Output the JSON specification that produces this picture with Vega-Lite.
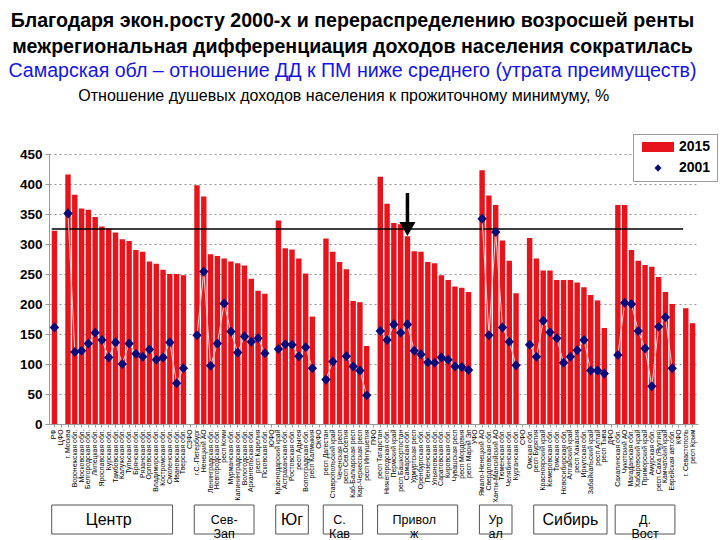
{
  "$schema": "https://vega.github.io/schema/vega-lite/v6.json",
  "padding": {"left": 8, "right": 0, "top": 10, "bottom": 0},
  "background": "white",
  "spacing": 1,
  "config": {
    "font": "Liberation Sans",
    "view": {"stroke": null},
    "axisY": {"labelFontSize": 13.5, "labelFontWeight": "bold", "labelColor": "black", "grid": true, "gridDash": [2, 3], "gridColor": "#777777", "gridWidth": 0.8, "domainColor": "#999999", "tickColor": "#999999", "tickSize": 4, "labelPadding": 3, "title": null},
    "legend": {"labelFontSize": 14, "labelFontWeight": "bold", "labelColor": "black", "strokeColor": "#999999", "fillColor": "white", "padding": 6, "rowPadding": 7, "symbolSize": 100, "symbolStrokeWidth": 0, "labelOffset": 14, "symbolOffset": 12}
  },
  "title": {
    "text": ["Благодаря экон.росту 2000-х и перераспределению возросшей ренты", "межрегиональная дифференциация доходов населения сократилась"],
    "subtitle": "Самарская обл – отношение ДД к ПМ ниже среднего (утрата преимуществ)",
    "anchor": "middle", "frame": "bounds", "dx": -16, "fontSize": 19.6, "fontWeight": "bold", "lineHeight": 26, "color": "black",
    "subtitleFontSize": 19.6, "subtitleColor": "#1414E6", "subtitleFontWeight": "normal", "subtitlePadding": 5, "offset": 6
  },
  "vconcat": [
    {
      "width": 649,
      "height": 270,
      "title": {"text": "Отношение душевых доходов населения к прожиточному минимуму, %", "fontSize": 16, "fontWeight": "normal", "anchor": "middle", "frame": "bounds", "dx": -15, "offset": 43, "color": "black"},
      "data": {"values": [
        {"region": "РФ", "y2015": 322, "y2001": 161},
        {"region": "ЦФО", "y2015": null, "y2001": null},
        {"region": "г. Москва", "y2015": 416, "y2001": 351},
        {"region": "Воронежская обл.", "y2015": 382, "y2001": 120},
        {"region": "Московская обл.", "y2015": 359, "y2001": 122},
        {"region": "Белгородская обл.", "y2015": 357, "y2001": 134},
        {"region": "Липецкая обл.", "y2015": 345, "y2001": 152},
        {"region": "Ярославская обл.", "y2015": 329, "y2001": 140},
        {"region": "Курская обл.", "y2015": 326, "y2001": 111},
        {"region": "Тамбовская обл.", "y2015": 319, "y2001": 136},
        {"region": "Калужская обл.", "y2015": 308, "y2001": 100},
        {"region": "Тульская обл.", "y2015": 305, "y2001": 134},
        {"region": "Брянская обл.", "y2015": 290, "y2001": 117},
        {"region": "Рязанская обл.", "y2015": 287, "y2001": 112},
        {"region": "Орловская обл.", "y2015": 271, "y2001": 124},
        {"region": "Владимирская обл.", "y2015": 267, "y2001": 107},
        {"region": "Костромская обл.", "y2015": 257, "y2001": 111},
        {"region": "Смоленская обл.", "y2015": 250, "y2001": 136},
        {"region": "Ивановская обл.", "y2015": 250, "y2001": 68},
        {"region": "Тверская обл.", "y2015": 248, "y2001": 93},
        {"region": "СЗФО", "y2015": null, "y2001": null},
        {"region": "г.С.-Петербург", "y2015": 398, "y2001": 148},
        {"region": "Ненецкий АО", "y2015": 379, "y2001": 254},
        {"region": "Ленинградская обл.", "y2015": 283, "y2001": 97},
        {"region": "Новгородская обл.", "y2015": 280, "y2001": 134},
        {"region": "респ Коми", "y2015": 276, "y2001": 201},
        {"region": "Мурманская обл.", "y2015": 271, "y2001": 154},
        {"region": "Калининградская обл.", "y2015": 268, "y2001": 119},
        {"region": "Вологодская обл.", "y2015": 264, "y2001": 146},
        {"region": "Архангельская обл.", "y2015": 242, "y2001": 137},
        {"region": "респ Карелия", "y2015": 222, "y2001": 143},
        {"region": "Псковская обл.", "y2015": 217, "y2001": 118},
        {"region": "ЮФО", "y2015": null, "y2001": null},
        {"region": "Краснодарский край", "y2015": 339, "y2001": 125},
        {"region": "Астраханская обл.", "y2015": 293, "y2001": 133},
        {"region": "Ростовская обл.", "y2015": 291, "y2001": 132},
        {"region": "респ Адыгея", "y2015": 276, "y2001": 113},
        {"region": "Волгоградская обл.", "y2015": 251, "y2001": 128},
        {"region": "респ Калмыкия", "y2015": 179, "y2001": 93},
        {"region": "СКФО", "y2015": null, "y2001": null},
        {"region": "респ Дагестан", "y2015": 309, "y2001": 74},
        {"region": "Ставропольский край", "y2015": 287, "y2001": 104},
        {"region": "Чеченская респ", "y2015": 270, "y2001": null},
        {"region": "респ Сев.Осетия", "y2015": 258, "y2001": 113},
        {"region": "Каб-Балкарская респ", "y2015": 205, "y2001": 96},
        {"region": "Кар-Черкесская респ", "y2015": 203, "y2001": 89},
        {"region": "респ Ингушетия", "y2015": 130, "y2001": 48},
        {"region": "ПФО", "y2015": null, "y2001": null},
        {"region": "респ Татарстан", "y2015": 412, "y2001": 155},
        {"region": "Нижегородская обл.", "y2015": 367, "y2001": 140},
        {"region": "Пермский край", "y2015": 335, "y2001": 166},
        {"region": "респ Башкортостан", "y2015": 333, "y2001": 152},
        {"region": "Самарская обл.", "y2015": 313, "y2001": 166},
        {"region": "Удмуртская респ", "y2015": 288, "y2001": 122},
        {"region": "Оренбургская обл.", "y2015": 287, "y2001": 116},
        {"region": "Пензенская обл.", "y2015": 270, "y2001": 103},
        {"region": "Ульяновская обл.", "y2015": 268, "y2001": 102},
        {"region": "Саратовская обл.", "y2015": 248, "y2001": 111},
        {"region": "Кировская обл.", "y2015": 240, "y2001": 107},
        {"region": "Чувашская респ", "y2015": 229, "y2001": 96},
        {"region": "респ Мордовия", "y2015": 227, "y2001": 95},
        {"region": "респ Марий Эл", "y2015": 220, "y2001": 90},
        {"region": "УФО", "y2015": null, "y2001": null},
        {"region": "Ямало-Ненецкий АО", "y2015": 423, "y2001": 342},
        {"region": "Свердловская обл.", "y2015": 381, "y2001": 148},
        {"region": "Ханты-Мансийский АО", "y2015": 365, "y2001": 320},
        {"region": "Тюменская обл.", "y2015": 306, "y2001": 161},
        {"region": "Челябинская обл.", "y2015": 272, "y2001": 137},
        {"region": "Курганская обл.", "y2015": 218, "y2001": 98},
        {"region": "СФО", "y2015": null, "y2001": null},
        {"region": "Омская обл.", "y2015": 310, "y2001": 132},
        {"region": "респ Бурятия", "y2015": 276, "y2001": 112},
        {"region": "Красноярский край", "y2015": 256, "y2001": 172},
        {"region": "Кемеровская обл.", "y2015": 256, "y2001": 153},
        {"region": "Томская обл.", "y2015": 240, "y2001": 143},
        {"region": "Новосибирская обл.", "y2015": 240, "y2001": 102},
        {"region": "Алтайский край", "y2015": 240, "y2001": 112},
        {"region": "респ Хакасия", "y2015": 236, "y2001": 123},
        {"region": "Иркутская обл.", "y2015": 228, "y2001": 140},
        {"region": "Забайкальский край", "y2015": 215, "y2001": 89},
        {"region": "респ Алтай", "y2015": 206, "y2001": 89},
        {"region": "респ Тыва", "y2015": 160, "y2001": 84},
        {"region": "ДФО", "y2015": null, "y2001": null},
        {"region": "Сахалинская обл.", "y2015": 365, "y2001": 115},
        {"region": "Чукотский АО", "y2015": 365, "y2001": 202},
        {"region": "Магаданская обл.", "y2015": 290, "y2001": 200},
        {"region": "Хабаровский край", "y2015": 272, "y2001": 155},
        {"region": "Приморский край", "y2015": 265, "y2001": 126},
        {"region": "Амурская обл.", "y2015": 262, "y2001": 63},
        {"region": "респ Саха (Якутия)", "y2015": 245, "y2001": 162},
        {"region": "Камчатский край", "y2015": 220, "y2001": 178},
        {"region": "Еврейская авт.обл.", "y2015": 200, "y2001": 93},
        {"region": "КФО", "y2015": null, "y2001": null},
        {"region": "г. Севастополь", "y2015": 193, "y2001": null},
        {"region": "респ Крым", "y2015": 168, "y2001": null}
      ]},
      "encoding": {
        "x": {
          "field": "region", "type": "nominal",
          "scale": {"paddingInner": 0.2, "paddingOuter": 0.4, "domain": ["РФ","ЦФО","г. Москва","Воронежская обл.","Московская обл.","Белгородская обл.","Липецкая обл.","Ярославская обл.","Курская обл.","Тамбовская обл.","Калужская обл.","Тульская обл.","Брянская обл.","Рязанская обл.","Орловская обл.","Владимирская обл.","Костромская обл.","Смоленская обл.","Ивановская обл.","Тверская обл.","СЗФО","г.С.-Петербург","Ненецкий АО","Ленинградская обл.","Новгородская обл.","респ Коми","Мурманская обл.","Калининградская обл.","Вологодская обл.","Архангельская обл.","респ Карелия","Псковская обл.","ЮФО","Краснодарский край","Астраханская обл.","Ростовская обл.","респ Адыгея","Волгоградская обл.","респ Калмыкия","СКФО","респ Дагестан","Ставропольский край","Чеченская респ","респ Сев.Осетия","Каб-Балкарская респ","Кар-Черкесская респ","респ Ингушетия","ПФО","респ Татарстан","Нижегородская обл.","Пермский край","респ Башкортостан","Самарская обл.","Удмуртская респ","Оренбургская обл.","Пензенская обл.","Ульяновская обл.","Саратовская обл.","Кировская обл.","Чувашская респ","респ Мордовия","респ Марий Эл","УФО","Ямало-Ненецкий АО","Свердловская обл.","Ханты-Мансийский АО","Тюменская обл.","Челябинская обл.","Курганская обл.","СФО","Омская обл.","респ Бурятия","Красноярский край","Кемеровская обл.","Томская обл.","Новосибирская обл.","Алтайский край","респ Хакасия","Иркутская обл.","Забайкальский край","респ Алтай","респ Тыва","ДФО","Сахалинская обл.","Чукотский АО","Магаданская обл.","Хабаровский край","Приморский край","Амурская обл.","респ Саха (Якутия)","Камчатский край","Еврейская авт.обл.","КФО","г. Севастополь","респ Крым"]},
          "axis": {"title": null, "labelAngle": -90, "labelFontSize": 6.9, "labelColor": "black", "tickSize": 3, "tickColor": "#999999", "domainColor": "#999999", "labelPadding": 2, "labelOverlap": false, "labelLimit": 200}
        }
      },
      "layer": [
        {
          "mark": {"type": "bar"},
          "encoding": {
            "y": {"field": "y2015", "type": "quantitative", "scale": {"domain": [0, 450], "nice": false},
              "axis": {"title": null, "tickCount": 9}},
            "color": {"datum": "2015", "scale": {"domain": ["2015", "2001"], "range": ["#E8141B", "#0A0A78"]},
              "legend": {"title": null, "orient": "none", "legendX": 584, "legendY": -20}}
          }
        },
        {
          "data": {"values": [{}]},
          "mark": {"type": "rule", "color": "black", "strokeWidth": 1.5},
          "encoding": {"x": {"datum": "РФ", "bandPosition": 0}, "x2": {"datum": "г. Севастополь", "bandPosition": 0}, "y": {"datum": 325, "type": "quantitative"}}
        },
        {
          "mark": {"type": "line", "color": "#f4cccc", "strokeWidth": 1, "invalid": "break-paths-show-domains"},
          "encoding": {"y": {"field": "y2001", "type": "quantitative"}}
        },
        {
          "mark": {"type": "point", "filled": true, "opacity": 1, "size": 180},
          "encoding": {
            "y": {"field": "y2001", "type": "quantitative"},
            "color": {"datum": "2001"},
            "shape": {"datum": "2001", "scale": {"domain": ["2015", "2001"], "range": ["M-3.2,-1L3.2,-1L3.2,1L-3.2,1Z", "M0,-0.75L0.7,0L0,0.75L-0.7,0Z"]},
              "legend": {"title": null, "orient": "none", "legendX": 584, "legendY": -20}}
          }
        },
        {
          "data": {"values": [{}]},
          "mark": {"type": "rule", "color": "black", "strokeWidth": 3.5},
          "encoding": {"x": {"datum": "Самарская обл."}, "y": {"datum": 385, "type": "quantitative"}, "y2": {"datum": 336}}
        },
        {
          "data": {"values": [{}]},
          "mark": {"type": "point", "shape": "triangle-down", "filled": true, "color": "black", "opacity": 1, "size": 260},
          "encoding": {"x": {"datum": "Самарская обл."}, "y": {"datum": 325, "type": "quantitative"}}
        }
      ]
    },
    {
      "width": 649,
      "height": 29,
      "data": {"values": [
        {"label": "Центр", "start": "РФ", "end": "Смоленская обл.", "mid": "Курская обл."},
        {"label": "Сев-\nЗап", "start": "г.С.-Петербург", "end": "Архангельская обл.", "mid": "респ Коми"},
        {"label": "Юг", "start": "Краснодарский край", "end": "Волгоградская обл.", "mid": "Ростовская обл."},
        {"label": "С.\nКав", "start": "респ Дагестан", "end": "Кар-Черкесская респ", "mid": "Чеченская респ"},
        {"label": "Привол\nж", "start": "респ Татарстан", "end": "Чувашская респ", "mid": "Удмуртская респ"},
        {"label": "Ур\nал", "start": "Ямало-Ненецкий АО", "end": "Челябинская обл.", "mid": "Ханты-Мансийский АО"},
        {"label": "Сибирь", "start": "респ Бурятия", "end": "респ Тыва", "mid": "Алтайский край"},
        {"label": "Д.\nВост", "start": "Сахалинская обл.", "end": "Еврейская авт.обл.", "mid": "Приморский край"}
      ]},
      "layer": [
        {
          "mark": {"type": "rect", "fill": "white", "stroke": "#555555", "strokeWidth": 1},
          "encoding": {
            "x": {"field": "start", "type": "nominal", "bandPosition": 0, "axis": null,
              "scale": {"paddingInner": 0.2, "paddingOuter": 0.4, "domain": ["РФ","ЦФО","г. Москва","Воронежская обл.","Московская обл.","Белгородская обл.","Липецкая обл.","Ярославская обл.","Курская обл.","Тамбовская обл.","Калужская обл.","Тульская обл.","Брянская обл.","Рязанская обл.","Орловская обл.","Владимирская обл.","Костромская обл.","Смоленская обл.","Ивановская обл.","Тверская обл.","СЗФО","г.С.-Петербург","Ненецкий АО","Ленинградская обл.","Новгородская обл.","респ Коми","Мурманская обл.","Калининградская обл.","Вологодская обл.","Архангельская обл.","респ Карелия","Псковская обл.","ЮФО","Краснодарский край","Астраханская обл.","Ростовская обл.","респ Адыгея","Волгоградская обл.","респ Калмыкия","СКФО","респ Дагестан","Ставропольский край","Чеченская респ","респ Сев.Осетия","Каб-Балкарская респ","Кар-Черкесская респ","респ Ингушетия","ПФО","респ Татарстан","Нижегородская обл.","Пермский край","респ Башкортостан","Самарская обл.","Удмуртская респ","Оренбургская обл.","Пензенская обл.","Ульяновская обл.","Саратовская обл.","Кировская обл.","Чувашская респ","респ Мордовия","респ Марий Эл","УФО","Ямало-Ненецкий АО","Свердловская обл.","Ханты-Мансийский АО","Тюменская обл.","Челябинская обл.","Курганская обл.","СФО","Омская обл.","респ Бурятия","Красноярский край","Кемеровская обл.","Томская обл.","Новосибирская обл.","Алтайский край","респ Хакасия","Иркутская обл.","Забайкальский край","респ Алтай","респ Тыва","ДФО","Сахалинская обл.","Чукотский АО","Магаданская обл.","Хабаровский край","Приморский край","Амурская обл.","респ Саха (Якутия)","Камчатский край","Еврейская авт.обл.","КФО","г. Севастополь","респ Крым"]}},
            "x2": {"field": "end", "bandPosition": 1}
          }
        },
        {
          "transform": [{"filter": {"field": "label", "oneOf": ["Центр", "Юг", "Сибирь"]}}],
          "mark": {"type": "text", "fontSize": 16, "color": "black"},
          "encoding": {
            "x": {"field": "mid", "type": "nominal"},
            "text": {"field": "label"}
          }
        },
        {
          "transform": [{"filter": {"not": {"field": "label", "oneOf": ["Центр", "Юг", "Сибирь"]}}}],
          "mark": {"type": "text", "fontSize": 12.5, "lineBreak": "\n", "lineHeight": 14.5, "color": "black"},
          "encoding": {
            "x": {"field": "mid", "type": "nominal"},
            "text": {"field": "label"}
          }
        }
      ]
    }
  ]
}
